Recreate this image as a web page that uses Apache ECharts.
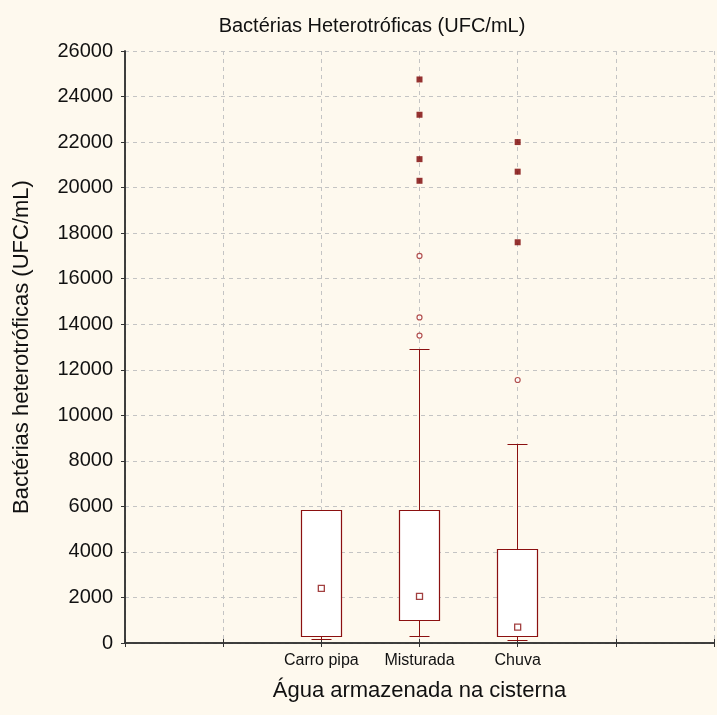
<!DOCTYPE html>
<html>
<head>
<meta charset="utf-8">
<script src="https://cdn.jsdelivr.net/npm/echarts@6/dist/echarts.min.js"></script>
<style>
  html, body { margin: 0; padding: 0; background: #FEF9EE; }
  #chart { width: 717px; height: 715px; }
</style>
</head>
<body>
<div id="chart"></div>
<script>
// Heterotrophic bacteria counts (UFC/mL) by stored-water source
const categories  = ['Carro pipa', 'Misturada', 'Chuva'];
const whiskerLow  = [150, 300, 90];
const q1          = [300, 1000, 300];
const median      = [2400, 2050, 700];
const q3          = [5800, 5800, 4100];
const whiskerHigh = [5800, 12900, 8700];
const outliers    = [[], [17000, 14300, 13500], [11550]];
const extremes    = [[], [24750, 23200, 21250, 20300], [22000, 20700, 17600]];
const yTickValues = [0, 2000, 4000, 6000, 8000, 10000, 12000, 14000, 16000, 18000, 20000, 22000, 24000, 26000];

// x axis runs over 7 slots (0..6); the groups sit in slots 2, 3 and 4
const firstSlot = 2;
const slotOf = i => i + firstSlot;

const FONT = 'Liberation Sans, Arial, sans-serif';
const RED = '#8B1010';

const boxData = categories.map((c, i) => [slotOf(i), whiskerLow[i], q1[i], median[i], q3[i], whiskerHigh[i]]);
const medianData = categories.map((c, i) => [slotOf(i), median[i]]);
const outlierData = [];
outliers.forEach((vals, i) => vals.forEach(v => outlierData.push([slotOf(i), v])));
const extremeData = [];
extremes.forEach((vals, i) => vals.forEach(v => extremeData.push([slotOf(i), v])));

const crisp = v => Math.round(v - 0.5) + 0.5;

function renderBox(params, api) {
  const x = api.value(0);
  const pLow = api.coord([x, api.value(1)]);
  const pQ1 = api.coord([x, api.value(2)]);
  const pQ3 = api.coord([x, api.value(4)]);
  const pHigh = api.coord([x, api.value(5)]);
  const unit = api.size([1, 0])[0];
  const cx = crisp(pLow[0]);
  const half = Math.round(unit * 0.2);
  const cap = Math.round(unit * 0.1);
  const yLow = crisp(pLow[1]), yQ1 = crisp(pQ1[1]), yQ3 = crisp(pQ3[1]), yHigh = crisp(pHigh[1]);
  const line = { stroke: RED, lineWidth: 1 };
  return {
    type: 'group',
    children: [
      { type: 'line', shape: { x1: cx, y1: yQ3, x2: cx, y2: yHigh }, style: line },
      { type: 'line', shape: { x1: cx - cap, y1: yHigh, x2: cx + cap, y2: yHigh }, style: line },
      { type: 'line', shape: { x1: cx, y1: yQ1, x2: cx, y2: yLow }, style: line },
      { type: 'line', shape: { x1: cx - cap, y1: yLow, x2: cx + cap, y2: yLow }, style: line },
      { type: 'rect', shape: { x: cx - half, y: yQ3, width: half * 2, height: yQ1 - yQ3 },
        style: { fill: '#ffffff', stroke: RED, lineWidth: 1.2 } }
    ]
  };
}

const gridLine = { show: true, lineStyle: { color: '#c4c4c4', type: [4, 4], width: 1 } };
const axisDark = { show: true, lineStyle: { color: '#333333', width: 1.5 } };

const chart = echarts.init(document.getElementById('chart'), null, { renderer: 'canvas' });
chart.setOption({
  backgroundColor: '#FEF9EE',
  animation: false,
  title: {
    text: 'Bactérias Heterotróficas (UFC/mL)',
    left: 367,
    textAlign: 'center',
    top: 11,
    textStyle: { fontFamily: FONT, fontSize: 20, fontWeight: 'normal', color: '#111111' }
  },
  grid: { left: 125, right: 0, top: 51, bottom: 72, containLabel: false },
  xAxis: [
    {
      type: 'value', min: 0, max: 6, interval: 1, position: 'bottom',
      axisLine: axisDark,
      axisTick: { show: true, length: 4, lineStyle: { color: '#333333' } },
      axisLabel: {
        fontFamily: FONT, fontSize: 16, color: '#111111', margin: 10,
        formatter: v => {
          const i = Math.round(v) - firstSlot;
          return categories[i] !== undefined ? categories[i] : '';
        }
      },
      splitLine: gridLine,
      name: 'Água armazenada na cisterna',
      nameLocation: 'middle',
      nameGap: 37,
      nameTextStyle: { fontFamily: FONT, fontSize: 22, color: '#111111' }
    },
    {
      type: 'value', min: 0, max: 6, interval: 1, position: 'top',
      axisLine: axisDark,
      axisTick: { show: true, length: 4, lineStyle: { color: '#333333' } },
      axisLabel: { show: false },
      splitLine: { show: false }
    }
  ],
  yAxis: [
    {
      type: 'value', min: yTickValues[0], max: yTickValues[yTickValues.length - 1], interval: 2000,
      axisLine: axisDark,
      axisTick: { show: true, length: 3, lineStyle: { color: '#333333' } },
      axisLabel: { fontFamily: FONT, fontSize: 20, color: '#111111', margin: 12, formatter: v => String(v) },
      splitLine: gridLine,
      name: 'Bactérias heterotróficas (UFC/mL)',
      nameLocation: 'middle',
      nameGap: 92,
      nameTextStyle: { fontFamily: FONT, fontSize: 22, color: '#111111' }
    },
    {
      type: 'value', min: yTickValues[0], max: yTickValues[yTickValues.length - 1], interval: 2000,
      position: 'right',
      axisLine: axisDark,
      axisTick: { show: true, inside: true, length: 4, lineStyle: { color: '#333333' } },
      axisLabel: { show: false },
      splitLine: { show: false }
    }
  ],
  series: [
    {
      type: 'custom',
      renderItem: renderBox,
      data: boxData,
      encode: { x: 0, y: [1, 2, 3, 4, 5] },
      z: 2
    },
    {
      type: 'scatter', data: medianData, symbol: 'rect', symbolSize: 6,
      itemStyle: { color: '#ffffff', borderColor: RED, borderWidth: 1.3 }, z: 3
    },
    {
      type: 'scatter', data: outlierData, symbol: 'circle', symbolSize: 5,
      itemStyle: { color: '#ffffff', borderColor: '#A02828', borderWidth: 1.2 }, z: 3
    },
    {
      type: 'scatter', data: extremeData, symbol: 'rect', symbolSize: 6,
      itemStyle: { color: '#7A0000' }, z: 3
    }
  ]
});
</script>
</body>
</html>
